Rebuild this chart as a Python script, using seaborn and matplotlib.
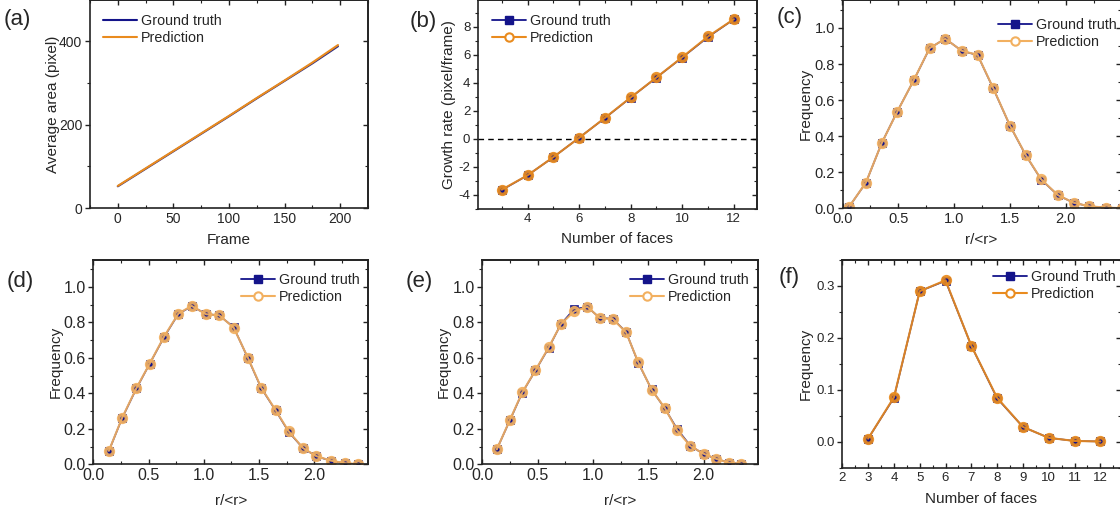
import matplotlib
matplotlib.use("Agg")
import matplotlib.pyplot as plt
from matplotlib.ticker import MultipleLocator
from matplotlib.lines import Line2D
import seaborn as sns

sns.set_style("ticks")
plt.rcParams['font.family'] = ['Liberation Sans', 'DejaVu Sans']
plt.rcParams['axes.unicode_minus'] = False

# ---- data ----
# (a) average area vs frame
frames = [0, 25, 50, 75, 100, 125, 150, 175, 198]
area_gt = [52, 94, 136, 178, 220, 263, 305, 347, 388]
area_pred = [53, 95, 137, 179, 221, 264, 306, 349, 391]

# (b) growth rate vs number of faces
faces_b = [3, 4, 5, 6, 7, 8, 9, 10, 11, 12]
growth_gt = [-3.65, -2.6, -1.31, 0.08, 1.48, 2.94, 4.37, 5.80, 7.26, 8.52]
growth_pred = [-3.62, -2.6, -1.30, 0.07, 1.50, 2.95, 4.38, 5.82, 7.30, 8.53]

# (c) size distribution
r_c = [0.06, 0.21, 0.35, 0.49, 0.64, 0.78, 0.92, 1.07, 1.21, 1.35, 1.50,
       1.64, 1.78, 1.93, 2.07, 2.21, 2.36, 2.50]
freq_c_gt = [0.009, 0.142, 0.36, 0.536, 0.712, 0.887, 0.941, 0.872, 0.85,
             0.665, 0.458, 0.296, 0.159, 0.072, 0.031, 0.011, 0.004, 0.001]
freq_c_pred = [0.009, 0.143, 0.36, 0.535, 0.713, 0.888, 0.940, 0.873, 0.851,
               0.666, 0.459, 0.297, 0.160, 0.073, 0.031, 0.011, 0.004, 0.001]

# (d) size distribution
r_d = [0.14, 0.26, 0.39, 0.51, 0.64, 0.77, 0.89, 1.02, 1.14, 1.27, 1.40,
       1.52, 1.65, 1.77, 1.90, 2.02, 2.15, 2.28, 2.40]
freq_d_gt = [0.075, 0.26, 0.428, 0.567, 0.717, 0.848, 0.891, 0.848, 0.839,
             0.773, 0.598, 0.43, 0.304, 0.182, 0.09, 0.045, 0.02, 0.005, 0.001]
freq_d_pred = [0.076, 0.262, 0.43, 0.568, 0.72, 0.85, 0.893, 0.846, 0.84,
               0.771, 0.60, 0.432, 0.306, 0.185, 0.091, 0.046, 0.021, 0.006, 0.001]

# (e) size distribution
r_e = [0.13, 0.25, 0.36, 0.48, 0.60, 0.71, 0.83, 0.95, 1.06, 1.18, 1.30,
       1.41, 1.53, 1.65, 1.76, 1.88, 2.00, 2.11, 2.23, 2.34]
freq_e_gt = [0.084, 0.25, 0.403, 0.529, 0.657, 0.79, 0.875, 0.887, 0.826,
             0.82, 0.745, 0.572, 0.422, 0.315, 0.20, 0.105, 0.058, 0.032,
             0.009, 0.002]
freq_e_pred = [0.084, 0.252, 0.405, 0.53, 0.66, 0.79, 0.862, 0.888, 0.825,
               0.819, 0.743, 0.575, 0.42, 0.318, 0.192, 0.103, 0.06, 0.032,
               0.008, 0.002]

# (f) number-of-faces distribution
faces_f = [3, 4, 5, 6, 7, 8, 9, 10, 11, 12]
freq_f_gt = [0.0065, 0.085, 0.29, 0.31, 0.185, 0.084, 0.029, 0.008, 0.002, 0.001]
freq_f_pred = [0.0065, 0.086, 0.29, 0.311, 0.185, 0.085, 0.029, 0.008, 0.002, 0.001]

NAVY = '#14148a'
ORANGE = '#E98B1E'
LIGHT = '#F2B060'

W, H = 1120, 512
fig = plt.figure(figsize=(W / 100, H / 100), dpi=100)


def add_ax(l, t, r, b):
    return fig.add_axes([l / W, 1 - b / H, (r - l) / W, (b - t) / H])


def fig_pt(x, y):
    return (x / W, 1 - y / H)


def style(ax, xlim, ylim, xt, yt, fs):
    ax.set_xlim(xlim)
    ax.set_ylim(ylim)
    for axis, (maj, mnr) in ((ax.xaxis, xt), (ax.yaxis, yt)):
        axis.set_major_locator(MultipleLocator(maj))
        axis.set_minor_locator(MultipleLocator(mnr))
    ax.tick_params(axis='x', which='both', direction='in', labelsize=fs, pad=3)
    ax.tick_params(axis='y', which='both', direction='out', labelsize=fs, pad=2)
    ax.tick_params(which='major', length=3.5, width=1, color='#222')
    ax.tick_params(which='minor', length=2, width=0.8, color='#222')
    for s in ax.spines.values():
        s.set_linewidth(1.2)
        s.set_color('#222')
    sy = ax.secondary_yaxis('right')
    sy.yaxis.set_major_locator(MultipleLocator(yt[0]))
    sy.yaxis.set_minor_locator(MultipleLocator(yt[1]))
    sy.tick_params(which='both', direction='in', labelright=False, color='#222')
    sy.tick_params(which='major', length=3.5, width=1)
    sy.tick_params(which='minor', length=2, width=0.8)
    sy.spines['right'].set_linewidth(1.2)
    sx = ax.secondary_xaxis('top')
    sx.xaxis.set_major_locator(MultipleLocator(xt[0]))
    sx.xaxis.set_minor_locator(MultipleLocator(xt[1]))
    sx.tick_params(which='both', direction='in', labeltop=False, color='#222')
    sx.tick_params(which='major', length=3.5, width=1)
    sx.tick_params(which='minor', length=2, width=0.8)
    sx.spines['top'].set_linewidth(1.2)


def labels(ax, xl, yl, xl_y, yl_x):
    ax.set_xlabel(xl, fontsize=11)
    ax.set_ylabel(yl, fontsize=11)
    inv = ax.transAxes.inverted()
    _, ya = inv.transform(fig.transFigure.transform(fig_pt(0, xl_y)))
    xa, _ = inv.transform(fig.transFigure.transform(fig_pt(yl_x, 0)))
    ax.xaxis.set_label_coords(0.5, ya)
    ax.yaxis.set_label_coords(xa, 0.5)
    ax.xaxis.label.set_va('center')
    ax.yaxis.label.set_va('center')


def pair(ax, x, y_gt, y_pr, pc):
    sns.lineplot(x=x, y=y_gt, ax=ax, color=NAVY, lw=1.2, marker='s',
                 markersize=6, markerfacecolor=NAVY, markeredgecolor=NAVY,
                 markeredgewidth=0.5, legend=False)
    sns.lineplot(x=x, y=y_pr, ax=ax, color=pc, lw=1.5, marker='o',
                 markersize=5.6, markerfacecolor='none', markeredgecolor=pc,
                 markeredgewidth=2.5, alpha=0.92, legend=False)


def legend(ax, gt_label, pc, x, y, markers=True):
    if markers:
        h = [Line2D([], [], color=NAVY, lw=1.3, marker='s', ms=6, mfc=NAVY, mec=NAVY),
             Line2D([], [], color=pc, lw=1.5, marker='o', ms=6, mfc='white', mec=pc, mew=1.5)]
    else:
        h = [Line2D([], [], color=NAVY, lw=1.5), Line2D([], [], color=pc, lw=1.5)]
    ax.legend(h, [gt_label, 'Prediction'], loc='upper left',
              bbox_to_anchor=fig_pt(x, y - 6), bbox_transform=fig.transFigure,
              frameon=False, fontsize=10.3, borderpad=0, borderaxespad=0,
              handlelength=2.4, handletextpad=0.25, labelspacing=0.22)


def tag(x, y, s):
    fig.text(*fig_pt(x, y), s, fontsize=16, ha='left', va='center')


# (a)
ax = add_ax(90, 0, 368, 208)
sns.lineplot(x=frames, y=area_gt, ax=ax, color='#2a2a85', lw=1.5, legend=False)
sns.lineplot(x=frames, y=area_pred, ax=ax, color=ORANGE, lw=1.5, legend=False)
style(ax, (-25, 225), (0, 499), (50, 25), (200, 100), 10)
labels(ax, 'Frame', 'Average area (pixel)', 240, 53)
legend(ax, 'Ground truth', ORANGE, 103, 20, markers=False)
tag(4, 20, '(a)')

# (b)
ax = add_ax(478, 0, 756.5, 209)
ax.axhline(0, color='black', lw=1, ls=(0, (4, 3)))
pair(ax, faces_b, growth_gt, growth_pred, ORANGE)
style(ax, (2.08, 12.88), (-5, 9.9), (2, 1), (2, 1), 9.5)
labels(ax, 'Number of faces', 'Growth rate (pixel/frame)', 239, 449)
legend(ax, 'Ground truth', ORANGE, 491.7, 20)
tag(410, 21, '(b)')

# (c)
ax = add_ax(842.5, 0, 1120.5, 208.3)
pair(ax, r_c, freq_c_gt, freq_c_pred, LIGHT)
style(ax, (0, 2.49), (0, 1.155), (0.5, 0.25), (0.2, 0.1), 10.5)
labels(ax, 'r/<r>', 'Frequency', 240, 806)
legend(ax, 'Ground truth', LIGHT, 997.7, 24)
tag(777, 18, '(c)')

# (d)
ax = add_ax(93.4, 260.3, 368.3, 464.3)
pair(ax, r_d, freq_d_gt, freq_d_pred, LIGHT)
style(ax, (0, 2.49), (0, 1.15), (0.5, 0.25), (0.2, 0.1), 11.5)
labels(ax, 'r/<r>', 'Frequency', 501, 56)
legend(ax, 'Ground truth', LIGHT, 241, 278.7)
tag(7, 282, '(d)')

# (e)
ax = add_ax(482.4, 260.3, 757.7, 464.3)
pair(ax, r_e, freq_e_gt, freq_e_pred, LIGHT)
style(ax, (0, 2.49), (0, 1.15), (0.5, 0.25), (0.2, 0.1), 11.5)
labels(ax, 'r/<r>', 'Frequency', 501, 444)
legend(ax, 'Ground truth', LIGHT, 630, 279)
tag(406, 281, '(e)')

# (f)
ax = add_ax(842.3, 260, 1120.5, 468)
pair(ax, faces_f, freq_f_gt, freq_f_pred, ORANGE)
style(ax, (2, 12.78), (-0.05, 0.35), (1, 0.5), (0.1, 0.05), 9.5)
labels(ax, 'Number of faces', 'Frequency', 499, 806)
legend(ax, 'Ground Truth', ORANGE, 993, 276)
tag(779, 277, '(f)')

fig.savefig('out.png', dpi=100)
